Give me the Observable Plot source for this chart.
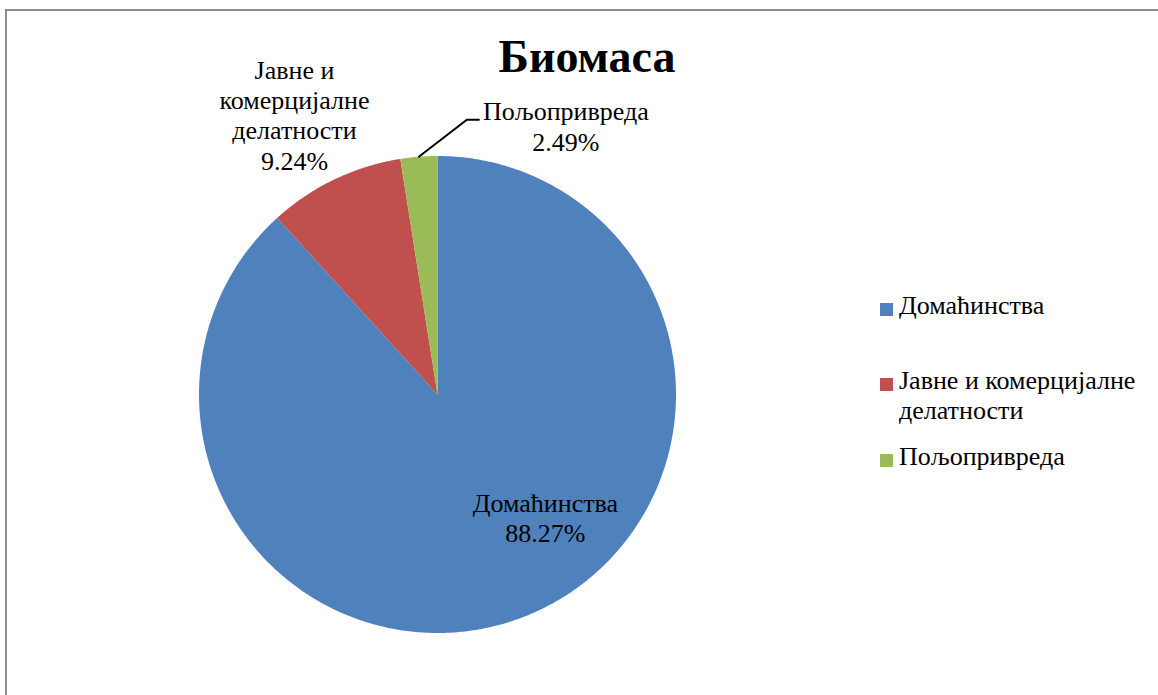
<!DOCTYPE html>
<html>
<head>
<meta charset="utf-8">
<script src="https://cdn.jsdelivr.net/npm/d3@7"></script>
<script src="https://cdn.jsdelivr.net/npm/@observablehq/plot@0.6"></script>
<style>
  body { margin: 0; background: #fff; }
  #wrap { position: relative; width: 1158px; height: 695px; overflow: hidden; background: #fff; color: #000; }
  #frame { position: absolute; left: 5px; top: 9px; width: 1400px; height: 900px;
           border: 2px solid #8e8e8e; box-sizing: border-box; }
  #chart { position: absolute; left: 0; top: 0; }
  #title { position: absolute; left: 437px; top: 31px; width: 300px; text-align: center;
           font-weight: bold; font-size: 46px; line-height: 52px; }
  .leg { position: absolute; left: 880px; font-size: 26px; line-height: 30px; display: flex; align-items: flex-start; }
  .leg .sw { width: 13px; height: 13px; margin-top: 12px; margin-right: 6px; flex: none; }
  .leg .tx { width: 262px; }
</style>
</head>
<body>
<div id="wrap" style="font-family:'Liberation Serif', serif">
  <div id="frame"></div>
  <div id="chart"></div>
  <div id="title" style="font-family:'Liberation Serif', serif">Биомаса</div>
  <div id="legend"></div>
</div>
<script>
// ---- data ----
const categories = ["Домаћинства", "Јавне и комерцијалне делатности", "Пољопривреда"];
const labelTexts = ["Домаћинства", "Јавне и\nкомерцијалне\nделатности", "Пољопривреда"];
const shares = [88.27, 9.24, 2.49];
const colors = ["#4F81BD", "#C0504D", "#9BBB59"];

// ---- layout (pixels) ----
const FONT = "'Liberation Serif', serif";
const W = 1158, H = 695;
const cx = 437, cy = 394, R = 238.5;
// label block offsets from the rim point at each slice's mid-angle
const labelOffsets = [[22, -100], [-40, -65], [147, -31]];
// leader line elbows (relative to rim point) for outside labels that need one
const leaderElbows = [null, null, [[48, -37], [60, -37]]];
const legendTops = [291, 366, 442];

// ---- geometry from the data ----
const arcs = d3.pie().sort(null).value(d => d).startAngle(0).endAngle(2 * Math.PI)(shares);
const polar = (a, r) => ({x: r * Math.sin(a), y: r * Math.cos(a)});

const slicePoints = [];
arcs.forEach((a, i) => {
  const name = categories[i];
  slicePoints.push({name, x: 0, y: 0});
  const n = Math.max(2, Math.ceil((a.endAngle - a.startAngle) / (Math.PI / 360)));
  for (let k = 0; k <= n; k++) {
    const t = a.startAngle + (a.endAngle - a.startAngle) * k / n;
    slicePoints.push({name, ...polar(t, R)});
  }
  slicePoints.push({name, x: 0, y: 0});
});

const labels = arcs.map((a, i) => {
  const mid = (a.startAngle + a.endAngle) / 2;
  const rim = polar(mid, R);
  const [dx, dy] = labelOffsets[i];
  return {text: labelTexts[i] + "\n" + shares[i].toFixed(2) + "%", x: rim.x + dx, y: rim.y - dy};
});

const leaders = [];
arcs.forEach((a, i) => {
  if (!leaderElbows[i]) return;
  const mid = (a.startAngle + a.endAngle) / 2;
  const rim = polar(mid, R);
  leaders.push({id: i, x: rim.x, y: rim.y});
  leaderElbows[i].forEach(([dx, dy]) => leaders.push({id: i, x: rim.x + dx, y: rim.y - dy}));
});

const chart = Plot.plot({
  width: W, height: H, margin: 0,
  style: {background: "transparent", fontFamily: FONT},
  x: {domain: [-cx, W - cx], range: [0, W], axis: null},
  y: {domain: [cy - H, cy], range: [H, 0], axis: null},
  color: {domain: categories, range: colors},
  marks: [
    Plot.line(slicePoints, {x: "x", y: "y", z: "name", fill: "name", stroke: null, curve: "linear"}),
    Plot.line(leaders, {x: "x", y: "y", z: "id", stroke: "#000", strokeWidth: 2}),
    Plot.text(labels, {x: "x", y: "y", text: "text", fontSize: 26, lineHeight: 1.165, fill: "#000",
                       fontFamily: FONT, textAnchor: "middle", lineAnchor: "middle"})
  ]
});
document.getElementById("chart").appendChild(chart);

// ---- legend ----
const legend = document.getElementById("legend");
categories.forEach((c, i) => {
  const row = document.createElement("div");
  row.className = "leg";
  row.style.top = legendTops[i] + "px";
  row.style.fontFamily = FONT;
  const sw = document.createElement("div");
  sw.className = "sw";
  sw.style.background = colors[i];
  const tx = document.createElement("div");
  tx.className = "tx";
  tx.textContent = c;
  row.appendChild(sw); row.appendChild(tx);
  legend.appendChild(row);
});
</script>
</body>
</html>
